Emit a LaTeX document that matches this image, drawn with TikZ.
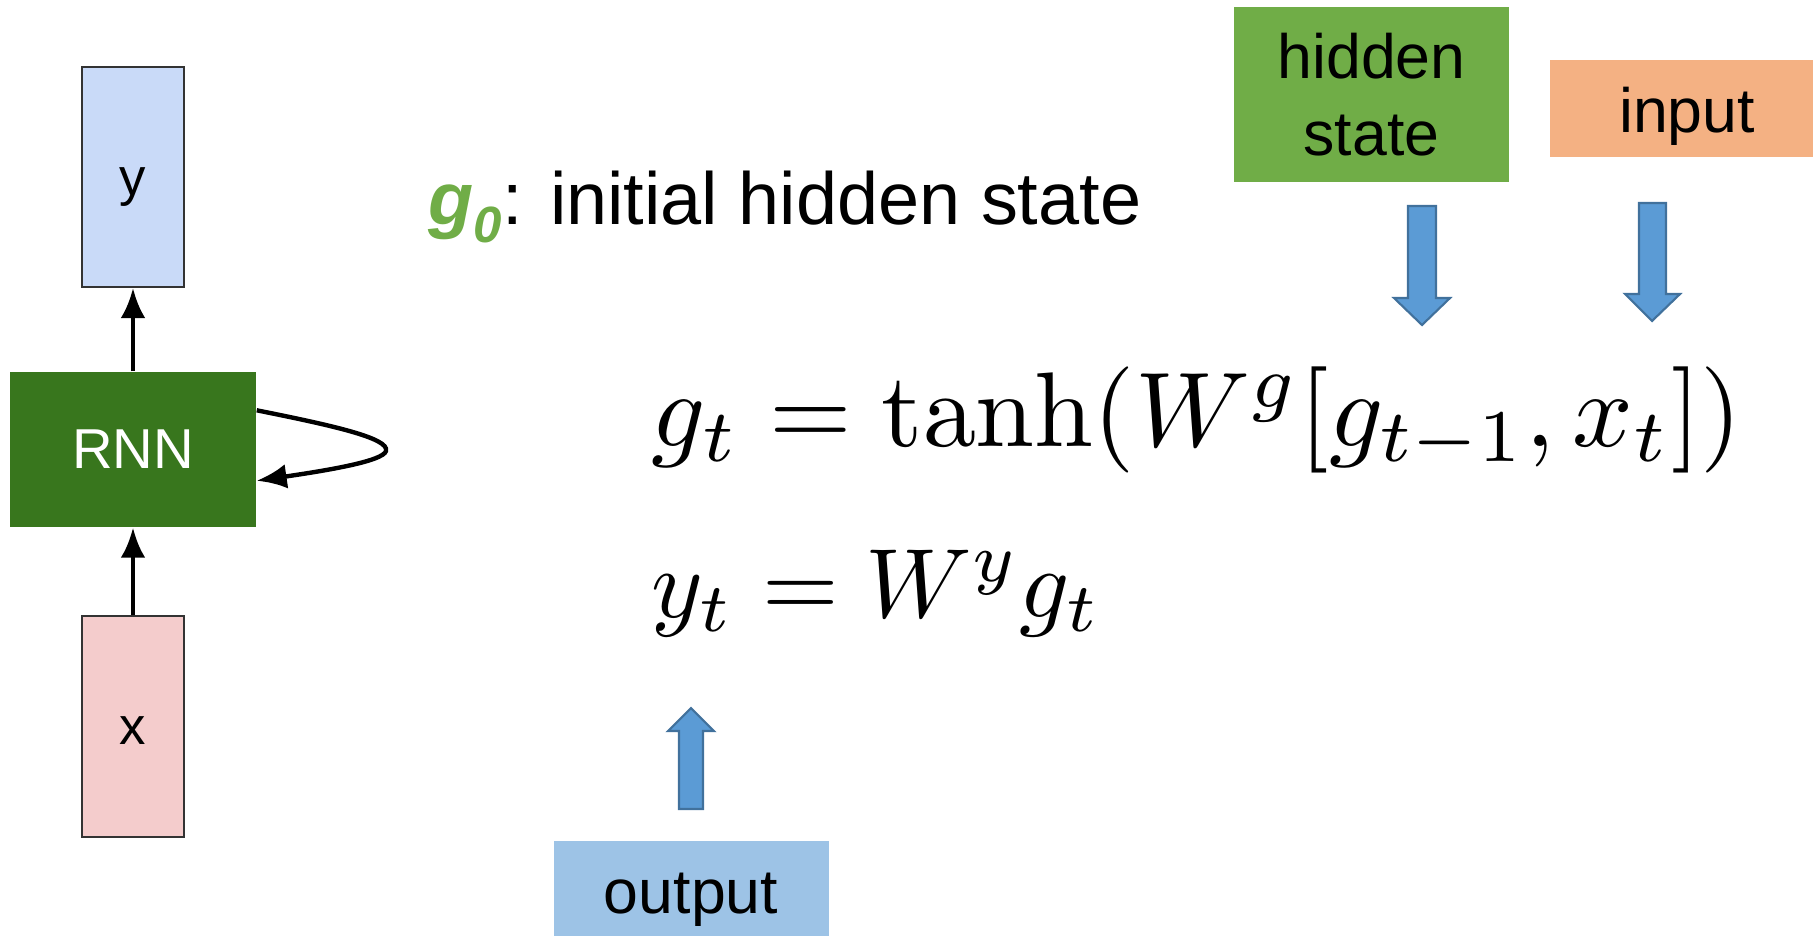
\documentclass[tikz,border=0pt]{standalone}
\usepackage[no-math]{fontspec}
\newfontfamily\arial{Liberation Sans}
\usepackage{graphicx}
\usetikzlibrary{arrows.meta}
\definecolor{ycol}{HTML}{C9DAF8}
\definecolor{xcol}{HTML}{F4CCCC}
\definecolor{rnncol}{HTML}{38761D}
\definecolor{hidcol}{HTML}{70AD47}
\definecolor{incol}{HTML}{F4B183}
\definecolor{outcol}{HTML}{9DC3E6}
\definecolor{bafill}{HTML}{5B9BD5}
\definecolor{badraw}{HTML}{41719C}
\definecolor{gzero}{HTML}{70AD47}
\begin{document}
\begin{tikzpicture}[x=0.01cm,y=-0.01cm,
  smallbox/.style={draw=black!80, line width=0.6pt, minimum width=1.02cm, inner sep=0pt, text height=0.36cm, text depth=0pt, font=\arial\fontsize{15}{18}\selectfont},
  flowarrow/.style={line width=1.25pt, -{Latex[length=8.5pt,width=7pt]}},
  labelbox/.style={inner sep=0pt, draw=none},
  labeltext/.style={font=\arial\fontsize{17.8}{21.9}\selectfont, inner sep=0pt},
  blockarrow/.style={fill=bafill, draw=badraw, line width=0.6pt, line join=miter}
]
\useasboundingbox (0,0) rectangle (1813,935);

% left RNN diagram
\node[smallbox, fill=ycol, minimum height=2.2cm] (ybox) at (133,177) {y};
\node[inner sep=0pt, fill=rnncol, minimum width=2.46cm, minimum height=1.55cm, text=white, font=\arial\fontsize{16}{19}\selectfont] (rnn) at (133,449.5) {RNN};
\node[smallbox, fill=xcol, minimum height=2.21cm] (xbox) at (133,726.5) {x};
\draw[flowarrow] (rnn.north) -- (ybox.south);
\draw[flowarrow] (xbox.north) -- (rnn.south);
\draw[flowarrow] ([yshift=-0.39cm]rnn.north east)
  .. controls (330,425) and (390,438) .. (386,451)
  .. controls (383,461) and (330,470) .. ([yshift=0.47cm]rnn.south east);

% initial hidden state label
\node[anchor=base west, inner sep=0pt, font=\arial\fontsize{21}{25}\selectfont] (g0) at (428,224)
  {{\color{gzero}\bfseries\itshape g\raisebox{-0.25em}{\fontsize{14.5}{17}\selectfont 0}}: initial hidden state};

% equations
\node[anchor=base west, inner sep=0pt] (eq1) at (651,446) {\scalebox{3.02}{$g_t = \tanh(W^g[g_{t-1},x_t])$}};
\node[anchor=base west, inner sep=0pt] (eq2) at (651,617) {\scalebox{2.8}{$y_t = W^y g_t$}};

% top right labels
\node[labelbox, fill=hidcol, minimum width=2.75cm, minimum height=1.75cm] (hid) at (1371.5,94.5) {};
\node[labeltext, align=center] (hidtext) at (hid.center) {hidden\\state};
\node[labelbox, fill=incol, minimum width=2.74cm, minimum height=0.97cm] (inp) at (1687,108.5) {};
\node[labeltext, anchor=base] (inptext) at ([yshift=-0.235cm]inp.center) {input};
\node[labelbox, fill=outcol, minimum width=2.75cm, minimum height=1.2cm] (outp) at (691.5,901) {};
\node[labeltext, anchor=base] (outtext) at (691,913) {output};

% block arrows
\draw[blockarrow] (1408,206) -- (1436,206) -- (1436,298) -- (1450,298) -- (1422,325) -- (1394,298) -- (1408,298) -- cycle;
\draw[blockarrow] (1639,203) -- (1666,203) -- (1666,294) -- (1680,294) -- (1652,321) -- (1625,294) -- (1639,294) -- cycle;
\draw[blockarrow] (679,809) -- (703,809) -- (703,731) -- (714,731) -- (691,708) -- (668,731) -- (679,731) -- cycle;
\end{tikzpicture}
\end{document}
